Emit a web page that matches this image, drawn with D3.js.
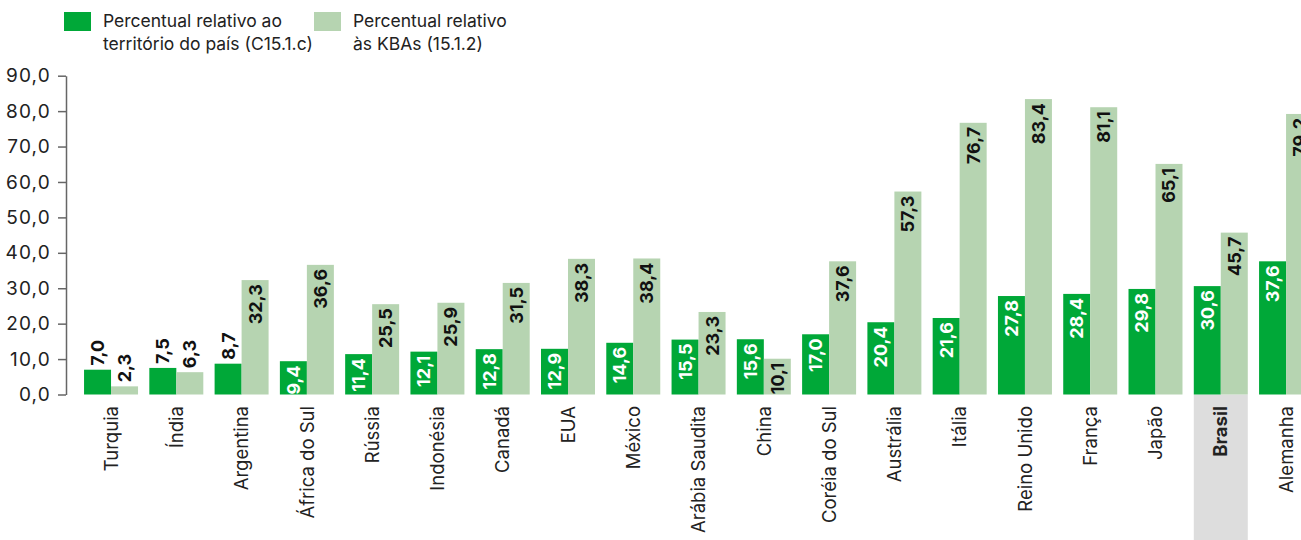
<!DOCTYPE html>
<html>
<head>
<meta charset="utf-8">
<script src="https://cdn.jsdelivr.net/npm/d3@7"></script>
<style>
  body { margin: 0; background: #fff; }
  svg { display: block; font-family: "Inter", "Open Sans", sans-serif; }
</style>
</head>
<body>
<svg id="chart" width="1301" height="540"></svg>
<script>
// 数据
const countries = ["Turquia", "Índia", "Argentina", "África do Sul", "Rússia", "Indonésia", "Canadá", "EUA", "México",
  "Arábia Saudita", "China", "Coréia do Sul", "Austrália", "Itália", "Reino Unido", "França", "Japão", "Brasil", "Alemanha"];
const territorio = [7.0, 7.5, 8.7, 9.4, 11.4, 12.1, 12.8, 12.9, 14.6, 15.5, 15.6, 17.0, 20.4, 21.6, 27.8, 28.4, 29.8, 30.6, 37.6];
const kbas = [2.3, 6.3, 32.3, 36.6, 25.5, 25.9, 31.5, 38.3, 38.4, 23.3, 10.1, 37.6, 57.3, 76.7, 83.4, 81.1, 65.1, 45.7, 79.2];
const yTicks = [0, 10, 20, 30, 40, 50, 60, 70, 80, 90];
const seriesNames = ["Percentual relativo ao|território do país (C15.1.c)", "Percentual relativo|às KBAs (15.1.2)"];
const highlight = "Brasil";

const colors = ["#00a838", "#b6d4b1"];
const fmt = v => d3.format(".1f")(v).replace(".", ",");

const svg = d3.select("#chart");

const y = d3.scaleLinear().domain([0, 90]).range([394.5, 75.7]);
const x0 = d3.scaleBand().domain(countries).range([78.4, 1318.7]).paddingInner(0.173).paddingOuter(0.0865);
const x1 = d3.scaleBand().domain([0, 1]).range([0, x0.bandwidth()]);

const rows = countries.map((c, i) => ({ country: c, values: [territorio[i], kbas[i]] }));

// 巴西的灰色背景
svg.append("rect")
  .attr("x", x0(highlight))
  .attr("y", y(0))
  .attr("width", x0.bandwidth())
  .attr("height", 540 - y(0))
  .attr("fill", "#dddddd");

// Y 轴
const yAxis = svg.append("g")
  .attr("transform", "translate(66,0)")
  .call(d3.axisLeft(y).tickValues(yTicks).tickFormat(fmt).tickSize(8).tickSizeOuter(0));
yAxis.attr("font-family", null);
yAxis.select(".domain").attr("stroke", "#666").attr("stroke-width", 1.5);
yAxis.selectAll(".tick line").attr("stroke", "#666").attr("stroke-width", 1.5);
yAxis.selectAll(".tick text")
  .attr("fill", "#222")
  .attr("font-size", 19)
  .attr("letter-spacing", 1.2)
  .attr("x", -15);

// 柱子
const groups = svg.selectAll(".grp")
  .data(rows)
  .enter()
  .append("g")
  .attr("class", "grp")
  .attr("transform", d => `translate(${x0(d.country)},0)`);

groups.selectAll("rect")
  .data(d => d.values.map((v, k) => ({ v, k })))
  .enter()
  .append("rect")
  .attr("x", d => x1(d.k))
  .attr("y", d => y(d.v))
  .attr("width", x1.bandwidth())
  .attr("height", d => y(0) - y(d.v))
  .attr("fill", d => colors[d.k]);

// 数值标签（竖排）
groups.selectAll("text.val")
  .data(d => d.values.map((v, k) => ({ v, k })))
  .enter()
  .append("text")
  .attr("class", "val")
  .attr("transform", d => {
    const cx = x1(d.k) + x1.bandwidth() / 2;
    const inside = d.v >= 9;
    const ty = inside ? y(d.v) + 4 : y(d.v) - 4;
    return `translate(${cx},${ty}) rotate(-90)`;
  })
  .attr("text-anchor", d => d.v >= 9 ? "end" : "start")
  .attr("dy", "0.36em")
  .attr("font-size", 18)
  .attr("font-weight", 700)
  .attr("fill", d => (d.v >= 9 && d.k === 0) ? "#fff" : "#111")
  .text(d => fmt(d.v));

// X 轴标签
svg.selectAll("text.cat")
  .data(countries)
  .enter()
  .append("text")
  .attr("class", "cat")
  .attr("transform", d => `translate(${x0(d) + x0.bandwidth() / 2},406) rotate(-90)`)
  .attr("text-anchor", "end")
  .attr("dy", "0.36em")
  .attr("font-size", 18.5)
  .attr("font-weight", d => d === highlight ? 700 : 400)
  .attr("fill", "#222")
  .text(d => d);

// 图例
const legendX = [64, 314];
seriesNames.forEach((name, i) => {
  const lg = svg.append("g").attr("transform", `translate(${legendX[i]},12)`);
  lg.append("rect").attr("width", 27).attr("height", 19).attr("fill", colors[i]);
  const t = lg.append("text")
    .attr("x", 39)
    .attr("y", 15)
    .attr("font-size", 17.5)
    .attr("fill", "#222");
  name.split("|").forEach((line, j) => {
    t.append("tspan").attr("x", 39).attr("dy", j === 0 ? 0 : 23).text(line);
  });
});
</script>
</body>
</html>
